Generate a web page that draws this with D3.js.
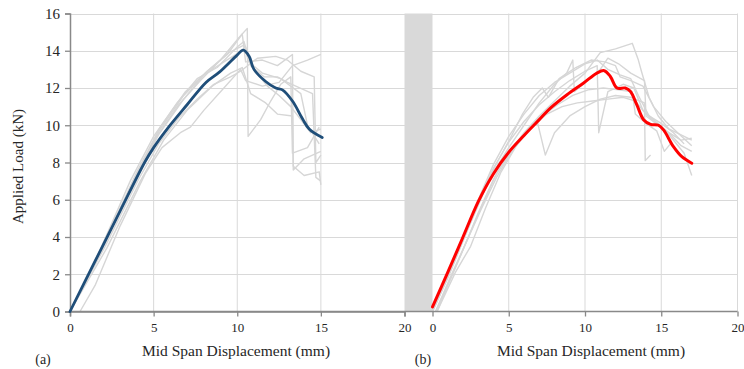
<!DOCTYPE html>
<html>
<head>
<meta charset="utf-8">
<script src="https://cdn.jsdelivr.net/npm/d3@7"></script>
<style>
  body { margin: 0; background: #fff; }
  svg text { font-family: "Liberation Serif", "Times New Roman", "DejaVu Serif", serif !important; }
</style>
</head>
<body>
<script>
// ---- data (displacement mm, load kN) ----
const yTicks = [0, 2, 4, 6, 8, 10, 12, 14, 16];
const xTicks = [0, 5, 10, 15, 20];

// panel (a): average curve
const meanA = [[0,0],[1.5,2.7],[3,5.4],[4.46,8],[5,8.8],[5.85,9.85],[7,11.1],[8.13,12.3],[8.93,12.85],[9.92,13.7],[10.36,14.03],[10.71,13.7],[11.0,13.0],[11.7,12.35],[12.3,12.0],[12.7,11.9],[13.3,11.3],[13.9,10.35],[14.3,9.8],[15.08,9.34]];

// panel (a): individual specimens
const specA1 = [[0,0],[1.9,3.3],[3.8,7.0],[5.2,9.4],[6.5,11.1],[7.8,12.4],[9.0,13.5],[10.0,14.6],[10.6,15.2],[10.65,9.4],[11.4,10.3],[12.0,11.3],[12.6,12.2],[13.2,12.6],[13.3,8.5],[14.2,8.8],[14.9,9.9]];
const specA2 = [[0,0],[2,3.6],[4,7.4],[5.4,9.8],[6.8,11.6],[8.2,12.9],[9.4,13.8],[10.3,14.9],[10.5,13.4],[11.5,13.5],[12.4,13.2],[13.3,13.8],[13.35,7.6],[14.0,8.2],[15.0,8.6]];
const specA3 = [[0,0],[1.8,3.3],[3.6,7.0],[5,9.4],[6.4,11.2],[7.6,12.5],[8.8,13.1],[10.0,14.2],[10.4,14.5],[10.8,13.2],[11.6,12.6],[12.4,12.6],[13.0,12.3],[14.5,11.7],[14.7,7.2],[15.0,7.0]];
const specA4 = [[0.6,0],[1.5,1.4],[3,4.6],[4.5,7.4],[5.5,8.8],[6.6,9.6],[7.2,9.9],[8.0,10.8],[9.2,12.0],[10.2,13.0],[10.5,12.4],[11.5,12.1],[12.5,12.3],[13.3,13.2],[14.2,13.5],[15.0,13.8]];
const specA5 = [[0,0],[2.2,3.4],[4.2,7.0],[5.6,9.2],[7,10.8],[8.5,12.1],[9.6,12.8],[10.3,13.1],[10.8,11.7],[11.7,11.2],[12.4,10.6],[13.3,10.5],[13.35,7.8],[14.0,7.3],[14.9,7.5],[15.0,6.8]];
const specA6 = [[0,0],[2,3.6],[4,7.5],[5.4,9.9],[6.9,11.8],[8.2,12.9],[9.5,13.9],[10.4,14.3],[10.7,13.4],[11.5,12.8],[12.6,12.5],[13.8,11.7],[14.2,10.0],[14.9,9.0]];
const specA7 = [[0,0],[2.1,3.5],[4.1,7.1],[5.3,9.0],[6.5,10.4],[7.6,11.4],[8.6,12.2],[9.6,12.6],[10.2,12.9],[11.2,13.6],[12.3,13.7],[13.0,13.5],[13.8,12.9],[14.6,12.6],[14.7,8.0],[15.0,8.4]];
const specA8 = [[0,0],[1.9,3.4],[3.9,7.1],[5.3,9.5],[6.8,11.4],[8.0,12.7],[9.2,13.4],[10.1,13.9],[10.5,14.2],[11.0,13.0],[11.8,12.1],[12.5,11.6],[13.2,11.0],[13.8,10.3],[14.4,9.6],[15.0,9.8]];

// panel (b): average curve
const meanB = [[0,0.25],[1,2.1],[2,4.0],[3,5.9],[4,7.4],[5,8.55],[6,9.45],[7,10.3],[7.73,10.92],[8.82,11.64],[9.91,12.27],[10.78,12.8],[11.26,12.93],[11.66,12.62],[12.1,12.0],[12.64,12.0],[12.97,11.82],[13.4,11.1],[13.84,10.3],[14.3,10.05],[14.82,10.0],[15.15,9.75],[15.8,8.85],[16.35,8.31],[17.0,7.96]];

// panel (b): individual specimens
const specB1 = [[0.3,0],[1,1.4],[2,3.3],[3,5.3],[4,7.1],[5,8.5],[6,9.6],[7,10.5],[8,11.3],[9,12.1],[10,12.8],[11,13.9],[12,14.1],[13.1,14.4],[13.5,13.5],[13.7,12.9],[14.2,11.5],[14.8,10.5],[15.5,9.8],[16.5,9.4],[17,9.2]];
const specB2 = [[0,0],[1,1.8],[2,3.8],[3,5.8],[4,7.5],[5,8.8],[6,10.0],[7,11.2],[8,12.2],[8.8,12.8],[9.2,13.5],[9.3,11.8],[10,12.3],[11,13.0],[11.5,13.6],[12.2,13.3],[13,12.8],[13.9,12.4],[14,10.5],[14.8,10.0],[15.5,9.5],[16.5,8.5],[17,7.3]];
const specB3 = [[0.2,0],[1.2,1.8],[2.2,3.7],[3.2,5.6],[4.2,7.4],[5.2,8.6],[6.2,9.7],[6.9,10.1],[7.4,8.4],[8,9.6],[9,10.5],[10,11.0],[11,11.4],[12,11.6],[13,11.5],[13.9,11.2],[13.95,8.1],[14.3,8.4]];
const specB4 = [[0,0.1],[1,1.9],[2,3.9],[3,5.9],[4,7.7],[5,9.1],[6,10.2],[7,11.1],[8,11.8],[9,12.4],[10,12.9],[10.8,13.2],[10.9,9.6],[11.5,11.8],[12.5,12.2],[13.2,12.0],[13.8,10.8],[14.5,10.3],[15.5,9.6],[16.3,8.9],[17,8.6]];
const specB5 = [[0.3,0],[1.5,2.1],[2.5,3.5],[3.5,5.6],[4.5,7.5],[5.5,8.9],[6.5,9.9],[7.5,10.6],[8.5,11.0],[9.5,11.2],[10.5,11.3],[11.5,11.4],[12.5,11.5],[13.3,11.3],[14,10.6],[14.8,10.0],[15.5,9.6],[16.3,9.2],[17,9.3]];
const specB6 = [[0,0],[1,1.9],[2,3.9],[3,6.0],[4,7.9],[5,9.4],[6,10.6],[7,11.6],[8,12.3],[9,12.8],[10,13.3],[10.8,13.5],[11.5,13.0],[12.3,12.7],[13,12.5],[13.5,11.6],[14.2,10.5],[15,10.1],[15.8,9.6],[16.5,9.0]];
const specB7 = [[0.2,0],[1.2,1.9],[2.2,3.7],[3.2,5.5],[4.2,7.2],[5.2,8.6],[6.2,9.7],[7.2,10.5],[8.2,11.1],[9.2,11.6],[10.2,11.9],[11.2,12.0],[12.2,11.9],[13.1,11.8],[13.3,10.6],[14.0,10.1],[14.7,9.7],[15.2,8.6],[15.6,9.0]];
const specB8 = [[0,0],[1.1,2.0],[2.1,4.0],[3.1,5.9],[4.1,7.8],[5.1,9.3],[5.9,10.6],[6.6,11.5],[7.2,12.0],[7.6,11.5],[8.3,12.5],[9.4,13.1],[10.4,13.5],[11.3,13.4],[12,13.2],[12.3,12.6],[13,12.4],[13.8,12.1],[14.5,11.0],[15.3,10.2],[16.2,9.5],[17,8.9]];

const specsA = [specA1, specA2, specA3, specA4, specA5, specA6, specA7, specA8];
const specsB = [specB1, specB2, specB3, specB4, specB5, specB6, specB7, specB8];

// ---- layout ----
const W = 744, H = 369;
const plotTop = 13.5, plotBottom = 311.5;
const gridColor = "#d9d9d9";
const axisColor = "#898989";
const textColor = "#262626";

const svg = d3.select("body").append("svg")
  .attr("width", W)
  .attr("height", H);

const y = d3.scaleLinear().domain([0, 16]).range([plotBottom, plotTop]);
const xA = d3.scaleLinear().domain([0, 20]).range([70, 404.5]);
const xB = d3.scaleLinear().domain([0, 20]).range([432.5, 737.5]);

// horizontal gridlines across both panels
svg.append("g").selectAll("line")
  .data(yTicks.filter(d => d > 0))
  .enter().append("line")
    .attr("x1", xA(0)).attr("x2", xB(20))
    .attr("y1", d => Math.round(y(d)) + 0.5)
    .attr("y2", d => Math.round(y(d)) + 0.5)
    .attr("stroke", gridColor)
    .attr("stroke-width", 1);

// vertical gridlines
svg.append("g").selectAll("line")
  .data(xTicks.filter(d => d > 0 && d < 20))
  .enter().append("line")
    .attr("x1", d => xA(d)).attr("x2", d => xA(d))
    .attr("y1", plotTop).attr("y2", plotBottom)
    .attr("stroke", gridColor);

svg.append("g").selectAll("line")
  .data(xTicks.filter(d => d > 0))
  .enter().append("line")
    .attr("x1", d => xB(d)).attr("x2", d => xB(d))
    .attr("y1", plotTop).attr("y2", plotBottom)
    .attr("stroke", gridColor);

// axis break band
svg.append("rect")
  .attr("x", xA(20))
  .attr("y", plotTop)
  .attr("width", xB(0) - xA(20))
  .attr("height", plotBottom - plotTop)
  .attr("fill", "#d9d9d9");

// specimen curves
const lineA = d3.line().x(d => xA(d[0])).y(d => y(d[1]));
const lineB = d3.line().x(d => xB(d[0])).y(d => y(d[1]));

svg.append("g").selectAll("path")
  .data(specsA)
  .enter().append("path")
    .attr("d", lineA)
    .attr("fill", "none")
    .attr("stroke", "#d6d6d6")
    .attr("stroke-width", 1.4)
    .attr("stroke-linejoin", "round");

svg.append("g").selectAll("path")
  .data(specsB)
  .enter().append("path")
    .attr("d", lineB)
    .attr("fill", "none")
    .attr("stroke", "#d6d6d6")
    .attr("stroke-width", 1.4)
    .attr("stroke-linejoin", "round");

// axes
const yAxis = svg.append("g")
  .attr("transform", `translate(${xA(0)},0)`)
  .call(d3.axisLeft(y).tickValues(yTicks).tickSize(5).tickPadding(5));

const xAxisA = svg.append("g")
  .attr("transform", `translate(0,${plotBottom})`)
  .call(d3.axisBottom(xA).tickValues(xTicks).tickSize(5).tickPadding(6));

const xAxisB = svg.append("g")
  .attr("transform", `translate(0,${plotBottom})`)
  .call(d3.axisBottom(xB).tickValues(xTicks).tickSize(5).tickPadding(6));

// continuous baseline across both panels
svg.append("line")
  .attr("x1", xA(0)).attr("x2", xB(20))
  .attr("y1", plotBottom).attr("y2", plotBottom)
  .attr("stroke", axisColor)
  .attr("stroke-width", 1.5);

[yAxis, xAxisA, xAxisB].forEach(g => {
  g.select(".domain").attr("stroke", axisColor).attr("stroke-width", 1.5);
  g.selectAll(".tick line").attr("stroke", axisColor).attr("stroke-width", 1.3);
  g.selectAll("text").attr("fill", textColor);
});
yAxis.selectAll("text").attr("font-size", "15px");
xAxisA.selectAll("text").attr("font-size", "13px");
xAxisB.selectAll("text").attr("font-size", "13px");
xAxisB.select(".domain").remove();

// average curves
svg.append("path")
  .datum(meanA)
  .attr("d", lineA.curve(d3.curveCatmullRom.alpha(0.5)))
  .attr("fill", "none")
  .attr("stroke", "#1f4e79")
  .attr("stroke-width", 2.8)
  .attr("stroke-linecap", "round");

svg.append("path")
  .datum(meanB)
  .attr("d", lineB.curve(d3.curveCatmullRom.alpha(0.5)))
  .attr("fill", "none")
  .attr("stroke", "#ff0000")
  .attr("stroke-width", 3)
  .attr("stroke-linecap", "round");

// labels
svg.append("text")
  .attr("transform", `translate(23,${(plotTop + plotBottom) / 2 + 4}) rotate(-90)`)
  .attr("text-anchor", "middle")
  .attr("font-size", "15px")
  .attr("fill", textColor)
  .text("Applied Load  (kN)");

svg.append("text")
  .attr("x", 236).attr("y", 356)
  .attr("text-anchor", "middle")
  .attr("font-size", "15.5px")
  .attr("fill", textColor)
  .text("Mid Span Displacement (mm)");

svg.append("text")
  .attr("x", 591).attr("y", 356)
  .attr("text-anchor", "middle")
  .attr("font-size", "15.5px")
  .attr("fill", textColor)
  .text("Mid Span Displacement (mm)");

svg.append("text")
  .attr("x", 43).attr("y", 364)
  .attr("text-anchor", "middle")
  .attr("font-size", "14px")
  .attr("fill", textColor)
  .text("(a)");

svg.append("text")
  .attr("x", 423).attr("y", 364)
  .attr("text-anchor", "middle")
  .attr("font-size", "14px")
  .attr("fill", textColor)
  .text("(b)");
</script>
</body>
</html>
